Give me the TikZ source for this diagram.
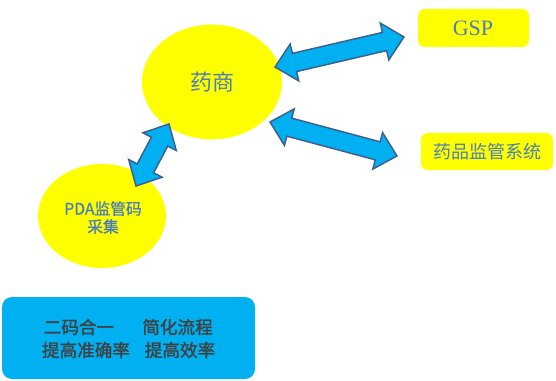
\documentclass[tikz,border=0pt]{standalone}
\usepackage{fontspec}
\usetikzlibrary{calc,shapes.geometric}
\setmainfont{Liberation Serif}
\newfontfamily\cjk{Noto Sans CJK SC}
\newfontfamily\cjkb[FakeBold=1.4]{Noto Sans CJK SC}
\newfontfamily\cjkm[FakeBold=0.8]{Noto Sans CJK SC}
\definecolor{ylw}{HTML}{FFFF00}
\definecolor{cyanfill}{HTML}{00B0F0}
\definecolor{arrline}{HTML}{3D5F8F}
\definecolor{txtblue}{HTML}{4A7EBB}
\definecolor{txtgray}{HTML}{404040}
\tikzset{
  bubble/.style={ellipse, fill=ylw, inner sep=0pt},
  ybox/.style={fill=ylw, rounded corners=5pt, inner sep=0pt},
  blockarrow/.style={fill=cyanfill, draw=arrline, line width=1.1pt, line join=miter},
  bluetxt/.style={text=txtblue, inner sep=0pt},
  graytxt/.style={text=txtgray, inner sep=0pt, font=\cjkb\fontsize{13.2pt}{15pt}\selectfont},
}
\newcommand\hl{15pt}
\newcommand\hw{14.2pt}
\newcommand\sw{7pt}
\newcommand\dblarr[2]{%
 \draw[blockarrow] (#1)
  -- ($(#1)!\hl!(#2)!\hw!90:(#2)$)
  -- ($(#1)!\hl!(#2)!\sw!90:(#2)$)
  -- ($(#2)!\hl!(#1)!\sw!-90:(#1)$)
  -- ($(#2)!\hl!(#1)!\hw!-90:(#1)$)
  -- (#2)
  -- ($(#2)!\hl!(#1)!\hw!90:(#1)$)
  -- ($(#2)!\hl!(#1)!\sw!90:(#1)$)
  -- ($(#1)!\hl!(#2)!\sw!-90:(#2)$)
  -- ($(#1)!\hl!(#2)!\hw!-90:(#2)$)
  -- cycle;}
\begin{document}
\begin{tikzpicture}[x=0.75pt,y=-0.75pt]
\useasboundingbox (0,0) rectangle (556,381);
% ellipses
\node[bubble, minimum width=105pt, minimum height=86pt] (ys) at (212,82) {};
\node[bubble, minimum width=96pt, minimum height=78pt] (pda) at (102,216) {};
\node[bluetxt, font=\cjk\fontsize{16.5pt}{19pt}\selectfont] (yst) at (212,82) {药商};
\node[bluetxt, font=\cjkm\fontsize{11.8pt}{14pt}\selectfont, align=center] (pdat) at (103,217.5) {PDA监管码\\[-0.5pt]采集};
% right boxes
\path[ybox] (418,9) rectangle (529,47);
\node[bluetxt, font=\fontsize{16.5pt}{19pt}\selectfont] (gsp) at (473,28) {GSP};
\path[ybox] (421,133) rectangle (553,170);
\node[bluetxt, font=\cjk\fontsize{13.5pt}{16pt}\selectfont] (jg) at (487,152) {药品监管系统};
% bottom box
\path[fill=cyanfill, rounded corners=7.5pt] (2,297) rectangle (255,379);
\node[graytxt] (t1) at (79,327) {二码合一};
\node[graytxt] (t2) at (177.5,327) {简化流程};
\node[graytxt] (t3) at (86,350) {提高准确率};
\node[graytxt] (t4) at (180,350) {提高效率};
% arrows
\coordinate (a1s) at (275,67);
\coordinate (a1e) at (404,37);
\coordinate (a2s) at (270,122);
\coordinate (a2e) at (397,156);
\coordinate (a3s) at (136,186);
\coordinate (a3e) at (169,124);
\dblarr{a1s}{a1e}
\dblarr{a2s}{a2e}
\dblarr{a3s}{a3e}
\end{tikzpicture}
\end{document}
